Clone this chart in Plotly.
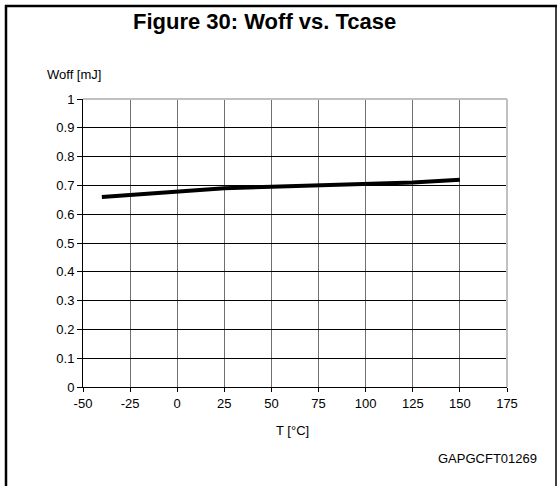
import plotly.graph_objects as go

temps = [-40, 0, 25, 50, 75, 100, 125, 150]
woff = [0.66, 0.68, 0.69, 0.695, 0.70, 0.705, 0.71, 0.72]
x_ticks = [-50, -25, 0, 25, 50, 75, 100, 125, 150, 175]
x_tick_labels = ["-50", "-25", "0", "25", "50", "75", "100", "125", "150", "175"]
y_ticks = [0, 0.1, 0.2, 0.3, 0.4, 0.5, 0.6, 0.7, 0.8, 0.9, 1]
y_tick_labels = ["0", "0.1", "0.2", "0.3", "0.4", "0.5", "0.6", "0.7", "0.8", "0.9", "1"]

W, H = 559, 486
L, R, T, B = 83, 507, 99, 387

def px(x):
    return (x - L) / (R - L)

def py(y):
    return (B - y) / (B - T)

FONT = "Liberation Sans, Arial, sans-serif"
FS = 13

fig = go.Figure()
fig.add_trace(go.Scatter(x=temps, y=woff, mode="lines",
                         line=dict(color="black", width=4), showlegend=False))

fig.update_layout(
    width=W, height=H,
    margin=dict(l=L, r=W - R, t=T, b=H - B, pad=0),
    paper_bgcolor="white", plot_bgcolor="white",
    font=dict(family=FONT, size=FS, color="black"),
    xaxis=dict(range=[-50, 175], tickvals=x_ticks, ticktext=x_tick_labels, showgrid=True,
               gridcolor="#707070", gridwidth=1, zeroline=False,
               showline=True, linecolor="black", linewidth=1,
               ticks="outside", ticklen=4, tickcolor="black",
               tickfont=dict(size=FS, family=FONT, color="black")),
    yaxis=dict(range=[0, 1], tickvals=y_ticks, ticktext=y_tick_labels,
               showgrid=True, gridcolor="black", gridwidth=1, zeroline=False,
               showline=True, linecolor="black", linewidth=1,
               ticks="outside", ticklen=5, tickcolor="black",
               tickfont=dict(size=FS, family=FONT, color="black")),
)

# plot-area top and right border (light gray)
fig.add_shape(type="line", xref="paper", yref="paper", x0=0, x1=1, y0=1, y1=1,
              line=dict(color="#c0c0c0", width=2))
fig.add_shape(type="line", xref="paper", yref="paper", x0=1, x1=1, y0=0, y1=1,
              line=dict(color="#c0c0c0", width=2))

# outer frame
fig.add_shape(type="line", xref="paper", yref="paper", x0=px(6), x1=px(6), y0=py(5), y1=py(490),
              line=dict(color="black", width=2.5))
fig.add_shape(type="line", xref="paper", yref="paper", x0=px(5), x1=px(557), y0=py(6), y1=py(6),
              line=dict(color="black", width=2.5))
fig.add_shape(type="line", xref="paper", yref="paper", x0=px(556), x1=px(556), y0=py(5), y1=py(490),
              line=dict(color="black", width=1.5))

fig.add_annotation(text="<b>Figure 30: Woff vs. Tcase</b>", xref="paper", yref="paper",
                   x=px(264), y=py(22), showarrow=False, xanchor="center", yanchor="middle",
                   font=dict(size=22, family=FONT, color="black"))
fig.add_annotation(text="Woff [mJ]", xref="paper", yref="paper",
                   x=px(45), y=py(74), showarrow=False, xanchor="left", yanchor="middle",
                   font=dict(size=FS, family=FONT, color="black"))
fig.add_annotation(text="T [°C]", xref="paper", yref="paper",
                   x=px(292), y=py(430), showarrow=False, xanchor="center", yanchor="middle",
                   font=dict(size=FS, family=FONT, color="black"))
fig.add_annotation(text="GAPGCFT01269", xref="paper", yref="paper",
                   x=px(539), y=py(458), showarrow=False, xanchor="right", yanchor="middle",
                   font=dict(size=FS, family=FONT, color="black"))

fig.write_html("out.html", config={"displayModeBar": False},
               post_script="document.body.style.margin='0';document.body.style.overflow='hidden';")
